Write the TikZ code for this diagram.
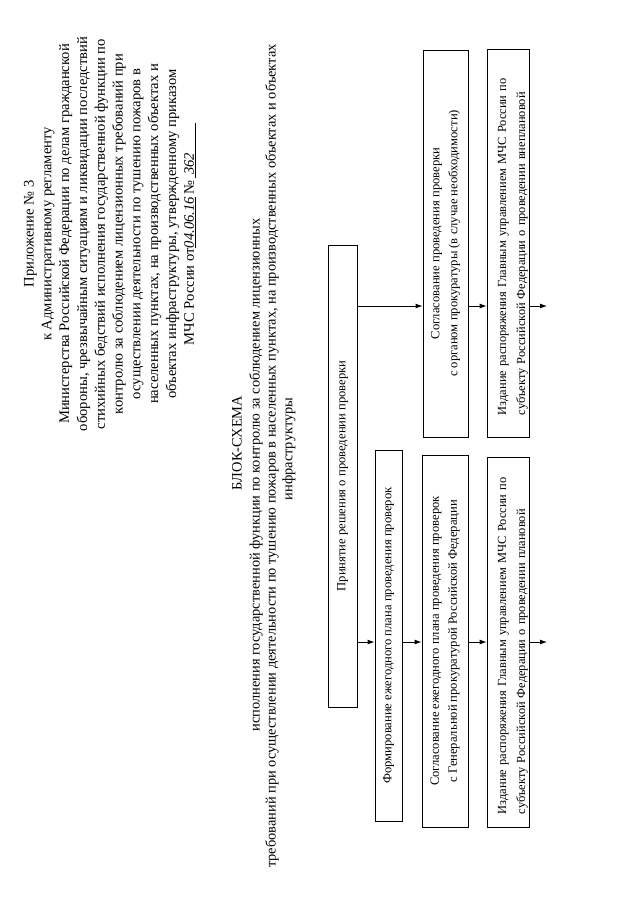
\documentclass[tikz,border=0pt]{standalone}
\usepackage{fontspec}
\setmainfont{Liberation Serif}
\usetikzlibrary{arrows.meta}
\begin{document}
\begin{tikzpicture}[x=1pt,y=-1pt,
  hdr/.style={rotate=90, font=\fontsize{14.6}{17.8}\selectfont, align=center, inner sep=0pt},
  ttl/.style={rotate=90, font=\fontsize{14.4}{17}\selectfont, inner sep=0pt},
  box/.style={draw, rotate=90, font=\fontsize{12.6}{18}\selectfont, align=center, inner sep=2pt, line width=0.9pt},
  lbox/.style={box, align=left, text width=344pt, inner xsep=13pt, font=\fontsize{12.4}{19}\selectfont},
  arr/.style={-{Latex[length=7pt,width=5pt]}, line width=0.9pt}]
\useasboundingbox (0,0) rectangle (640,905);
\fill[white] (0,0) rectangle (640,905);

\node[hdr] (hdr) at (110,234) {Приложение № 3\\
к Административному регламенту\\
Министерства Российской Федерации по делам гражданской\\
обороны, чрезвычайным ситуациям и ликвидации последствий\\
стихийных бедствий исполнения государственной функции по\\
контролю за соблюдением лицензионных требований при\\
осуществлении деятельности по тушению пожаров в\\
населенных пунктах, на производственных объектах и\\
объектах инфраструктуры, утвержденному приказом\\
МЧС России от\underline{\itshape 04.06.16}\,№\,\underline{\itshape\ 362\hspace{30pt}}};

\node[ttl] (t1) at (237,443) {БЛОК-СХЕМА};
\node[ttl] (t2) at (256,475) {исполнения государственной функции по контролю за соблюдением лицензионных};
\node[ttl] (t3) at (272,456) {требований при осуществлении деятельности по тушению пожаров в населенных пунктах, на производственных объектах и объектах};
\node[ttl] (t4) at (289,449) {инфраструктуры};

\node[box, minimum width=462, minimum height=29] (b1) at (342.5,476) {Принятие решения о проведении проверки};
\node[box, minimum width=371, minimum height=27] (b2) at (388.5,635.5) {Формирование ежегодного плана проведения проверок};
\node[box, minimum width=372, minimum height=46] (b3) at (445,641) {Согласование ежегодного плана проведения проверок\\с Генеральной прокуратурой Российской Федерации};
\node[lbox, minimum width=370, minimum height=39] (b4) at (508.5,642) {\rule{0pt}{17pt}Издание распоряжения Главным управлением МЧС России по\\субъекту Российской Федерации о проведении плановой};
\node[box, minimum width=387, minimum height=45] (c1) at (445.5,243.5) {Согласование проведения проверки\\с органом прокуратуры (в случае необходимости)};
\node[lbox, minimum width=388, minimum height=39] (c2) at (508.5,243) {\rule{0pt}{17pt}Издание распоряжения Главным управлением МЧС России по\\субъекту Российской Федерации о проведении внеплановой};

\coordinate (r1) at (0,306);
\coordinate (r2) at (0,642);
\coordinate (e1) at (547,306);
\coordinate (e2) at (547,642);

\draw[arr] (b1.south |- r1) -- (c1.north |- r1);
\draw[arr] (c1.south |- r1) -- (c2.north |- r1);
\draw[arr] (c2.south |- r1) -- (e1);
\draw[arr] (b1.south |- r2) -- (b2.north |- r2);
\draw[arr] (b2.south |- r2) -- (b3.north |- r2);
\draw[arr] (b3.south |- r2) -- (b4.north |- r2);
\draw[arr] (b4.south |- r2) -- (e2);
\end{tikzpicture}
\end{document}
